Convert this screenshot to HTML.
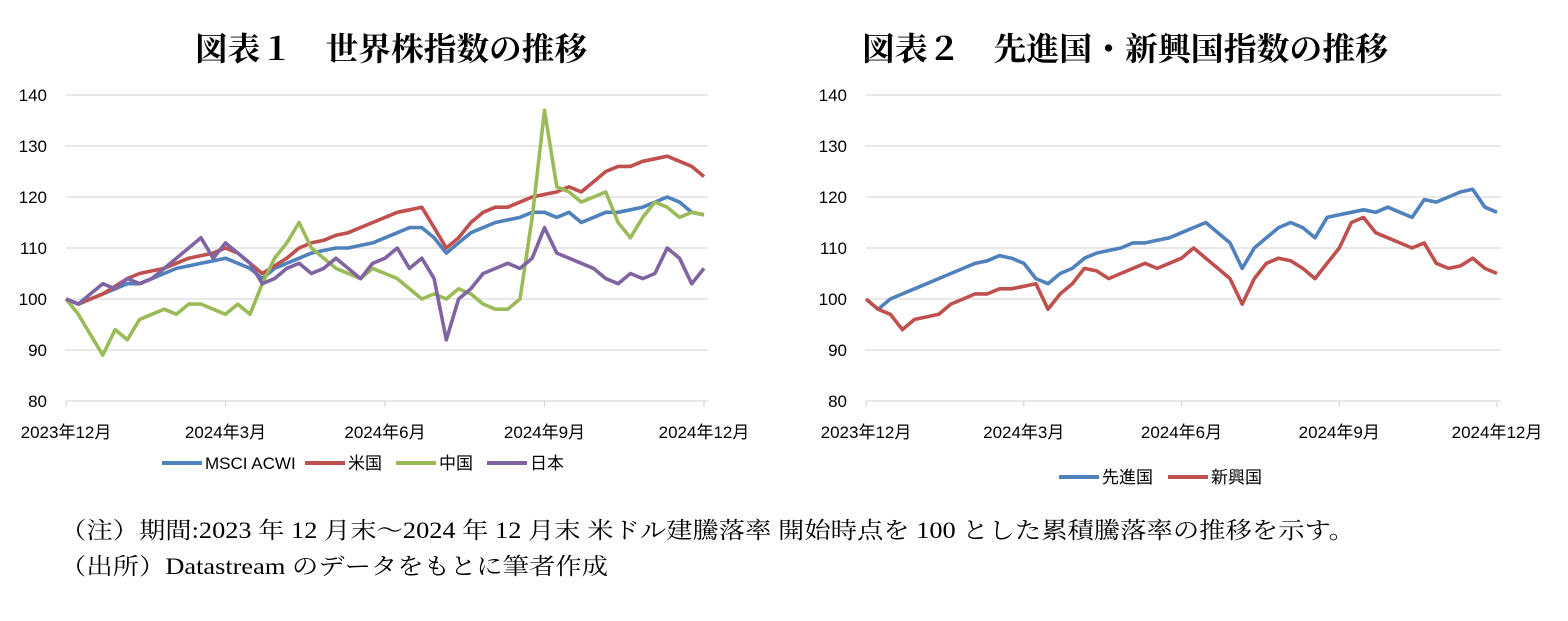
<!DOCTYPE html>
<html><head><meta charset="utf-8"><style>
body{margin:0;background:#fff;width:1568px;height:621px;overflow:hidden}
svg{display:block}
.t{font-family:"Liberation Serif","Noto Serif CJK SC","Noto Sans CJK JP",serif;font-size:32px;font-weight:bold;fill:#000}
.a{font-family:"Liberation Sans","Noto Sans CJK JP",sans-serif;font-size:17px;fill:#000}
.n{font-family:"Liberation Serif","Noto Serif CJK SC",serif;font-size:23px;fill:#000}
</style></head><body>
<svg id="s" width="1568" height="621">
<text class="t" x="195" y="60" textLength="392" lengthAdjust="spacingAndGlyphs">図表１　世界株指数の推移</text>
<text class="t" x="862" y="60" textLength="526" lengthAdjust="spacingAndGlyphs">図表２　先進国・新興国指数の推移</text>
<text class="n" x="60" y="538" textLength="1295" lengthAdjust="spacingAndGlyphs">（注）期間:2023 年 12 月末～2024 年 12 月末 米ドル建騰落率 開始時点を 100 とした累積騰落率の推移を示す。</text>
<text class="n" x="60" y="574" textLength="548" lengthAdjust="spacingAndGlyphs">（出所）Datastream のデータをもとに筆者作成</text>
</svg>
<script>
const yTicks=[80,90,100,110,120,130,140];
const xLabels=["2023年12月","2024年3月","2024年6月","2024年9月","2024年12月"];
const acwi=[100,99,100,101,102,103,103,104,105,106,106.5,107,107.5,108,107,106,104,106,107,108,109,109.5,110,110,110.5,111,112,113,114,114,112,109,111,113,114,115,115.5,116,117,117,116,117,115,116,117,117,117.5,118,119,120,119,117,116.5];
const us=[100,99,100,101,102.5,104,105,105.5,106,107,108,108.5,109,110,109,107,105,106.5,108,110,111,111.5,112.5,113,114,115,116,117,117.5,118,114,110,112,115,117,118,118,119,120,120.5,121,122,121,123,125,126,126,127,127.5,128,127,126,124];
const china=[100,97,93,89,94,92,96,97,98,97,99,99,98,97,99,97,103,108,111,115,110,108,106,105,104,106,105,104,102,100,101,100,102,101,99,98,98,100,116,137,122,121,119,120,121,115,112,116,119,118,116,117,116.5];
const japan=[100,99,101,103,102,104,103,104,106,108,110,112,108,111,109,107,103,104,106,107,105,106,108,106,104,107,108,110,106,108,104,92,100,102,105,106,107,106,108,114,109,108,107,106,104,103,105,104,105,110,108,103,106];
const developed=[100,98,100,101,102,103,104,105,106,107,107.5,108.5,108,107,104,103,105,106,108,109,109.5,110,111,111,111.5,112,113,114,115,113,111,106,110,112,114,115,114,112,116,116.5,117,117.5,117,118,117,116,119.5,119,120,121,121.5,118,117];
const emerging=[100,98,97,94,96,96.5,97,99,100,101,101,102,102,102.5,103,98,101,103,106,105.5,104,105,106,107,106,107,108,110,108,106,104,99,104,107,108,107.5,106,104,107,110,115,116,113,112,111,110,111,107,106,106.5,108,106,105];
const NS='http://www.w3.org/2000/svg';
const svg=document.getElementById('s');
function mk(tag,attrs,parent){const e=document.createElementNS(NS,tag);for(const k in attrs)e.setAttribute(k,attrs[k]);(parent||svg).appendChild(e);return e;}
function chart(x0,x1,series,legend,legY,prefix){
  const y=v=>95+(140-v)*5.1;
  const g=mk('g',{});
  
  
  yTicks.forEach(t=>{
    if(t>80){const l=mk('line',{x1:x0,x2:x1+4,y1:y(t),y2:y(t),stroke:'#d9d9d9','stroke-width':1.3},g);
    
    }
    const tx=mk('text',{x:x0-19,y:y(t)+6,'text-anchor':'end',class:'a'},g);tx.textContent=t;
    
    
  });
  const ax=mk('line',{x1:x0,x2:x1+4,y1:y(80),y2:y(80),stroke:'#d9d9d9','stroke-width':1.3},g);
  
  
  xLabels.forEach((lb,i)=>{
    const xx=x0+(x1-x0)*i/(xLabels.length-1);
    const tk=mk('line',{x1:xx,x2:xx,y1:y(80),y2:y(80)+6,stroke:'#d9d9d9','stroke-width':1.3},g);
    
    
    const tx=mk('text',{x:xx,y:438,'text-anchor':'middle',class:'a'},g);tx.textContent=lb;
    
    
  });
  series.forEach(s=>{
    const n=s.d.length;
    const pts=s.d.map((v,i)=>(x0+(x1-x0)*i/(n-1)).toFixed(1)+','+y(v).toFixed(1)).join(' ');
    const p=mk('polyline',{points:pts,fill:'none',stroke:s.c,'stroke-width':3.6,'stroke-linejoin':'round'},g);
    
    
  });
  let lx=legend.x;
  series.forEach(s=>{
    const l=mk('line',{x1:lx,x2:lx+40,y1:legY-6,y2:legY-6,stroke:s.c,'stroke-width':4},g);
    
    
    const tx=mk('text',{x:lx+43,y:legY,class:'a'},g);tx.textContent=s.name;
    
    
    lx+=43+s.w;
  });
}
chart(66,704,[
 {id:'acwi',name:'MSCI ACWI',c:'#4f81bd',d:acwi,w:100},
 {id:'us',name:'米国',c:'#c0504d',d:us,w:48},
 {id:'china',name:'中国',c:'#9bbb59',d:china,w:48},
 {id:'japan',name:'日本',c:'#8064a2',d:japan,w:40}],{x:162},469,'chart1');
chart(866,1497,[
 {id:'developed',name:'先進国',c:'#4f81bd',d:developed,w:66},
 {id:'emerging',name:'新興国',c:'#c0504d',d:emerging,w:56}],{x:1059},483,'chart2');
</script>
</body></html>
